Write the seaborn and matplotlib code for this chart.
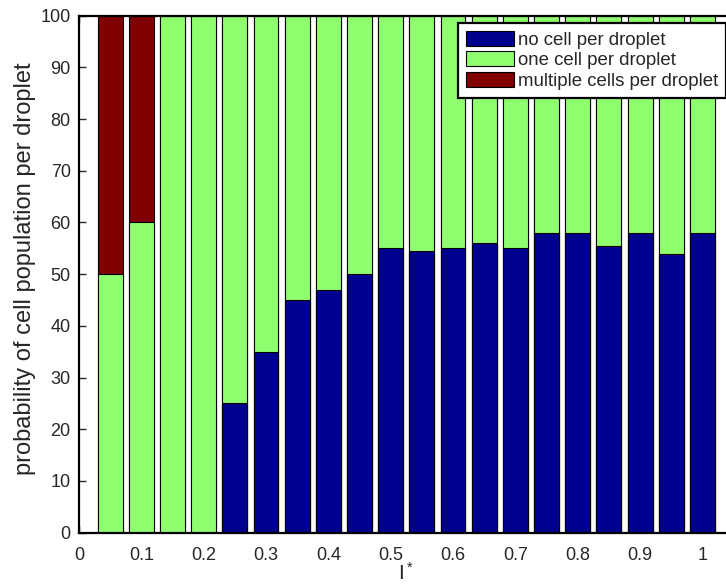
import numpy as np
import pandas as pd
import matplotlib
matplotlib.use("Agg")
import matplotlib.pyplot as plt
import seaborn as sns
from matplotlib.patches import Patch

# Occupancy distribution for each loading value I*
loading = [0.05, 0.10, 0.15, 0.20, 0.25, 0.30, 0.35, 0.40, 0.45, 0.50,
           0.55, 0.60, 0.65, 0.70, 0.75, 0.80, 0.85, 0.90, 0.95, 1.00]
no_cell = [0, 0, 0, 0, 25, 35, 45, 47, 50, 55,
           54.5, 55, 56, 55, 58, 58, 55.5, 58, 54, 58]
multiple_cells = [50, 40, 0, 0, 0, 0, 0, 0, 0, 0,
                  0, 0, 0, 0, 0, 0, 0, 0, 0, 0]
one_cell = [100 - n - m for n, m in zip(no_cell, multiple_cells)]

series_labels = ["no cell per droplet", "one cell per droplet",
                 "multiple cells per droplet"]
series_colors = ["#00008F", "#8FFF70", "#800000"]
xtick_values = [0, 0.1, 0.2, 0.3, 0.4, 0.5, 0.6, 0.7, 0.8, 0.9, 1.0]
xtick_labels = ["0", "0.1", "0.2", "0.3", "0.4", "0.5", "0.6", "0.7", "0.8", "0.9", "1"]
ytick_values = list(range(0, 101, 10))

sns.set_style("ticks")
plt.rcParams["font.family"] = ["Liberation Sans", "DejaVu Sans"]
plt.rcParams["font.size"] = 13

df = pd.DataFrame({"I": loading, "no": no_cell, "one": one_cell, "multi": multiple_cells})
df["cum_one"] = df["no"] + df["one"]
df["cum_multi"] = df["cum_one"] + df["multi"]

fig = plt.figure(figsize=(7.26, 5.85), dpi=100)
ax = fig.add_axes([0.1088, 0.0894, 0.9016, 0.8838])

bar_kws = dict(native_scale=True, saturation=1, width=0.8,
               edgecolor="black", linewidth=0.8, errorbar=None, ax=ax)
# stacked look: draw cumulative totals from the top segment downwards
sns.barplot(data=df, x="I", y="cum_multi", color=series_colors[2], **bar_kws)
sns.barplot(data=df, x="I", y="cum_one", color=series_colors[1], **bar_kws)
sns.barplot(data=df, x="I", y="no", color=series_colors[0], **bar_kws)

ax.set_xlim(0, 1.05)
ax.set_ylim(0, 100)
ax.set_xticks(xtick_values)
ax.set_xticklabels(xtick_labels)
ax.set_yticks(ytick_values)
ax.tick_params(direction="in", top=True, right=True, length=5, width=1,
               labelsize=13)
ax.tick_params(axis="x", pad=10)
ax.tick_params(axis="y", pad=6)
for sp in ax.spines.values():
    sp.set_linewidth(1.6)
    sp.set_color("black")
    sp.set_visible(True)

ax.set_xlabel(r"$\mathregular{I^*}$", fontsize=15)
ax.xaxis.set_label_coords(0.5, -0.056)
ax.set_ylabel("probability of cell population per droplet", fontsize=17)
ax.yaxis.set_label_coords(-0.066, 0.51)

handles = [Patch(facecolor=c, edgecolor="black", linewidth=0.8) for c in series_colors]
leg = ax.legend(handles, series_labels, loc="upper left",
                bbox_to_anchor=(0.579, 0.986), borderaxespad=0,
                fancybox=False, framealpha=1, edgecolor="black",
                fontsize=13.4, handlelength=2.6, handleheight=0.86,
                handletextpad=0.2, labelspacing=0.15, borderpad=0.42)
leg.get_frame().set_linewidth(1.6)

fig.savefig("out.png", dpi=100)
